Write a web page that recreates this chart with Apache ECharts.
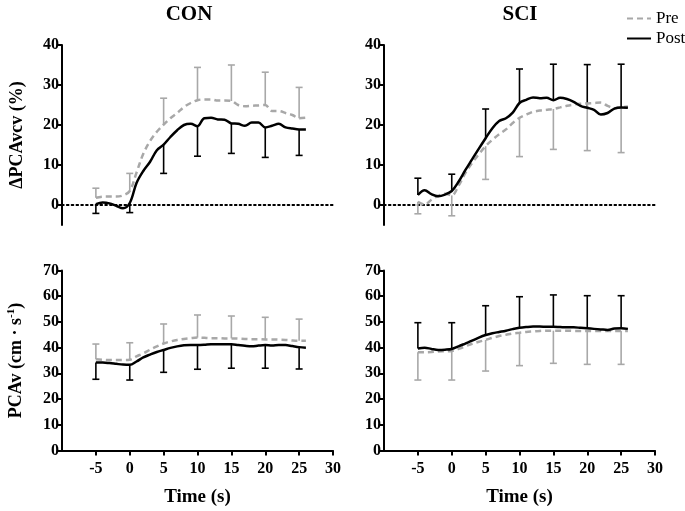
<!DOCTYPE html>
<html><head><meta charset="utf-8">
<script src="https://cdn.jsdelivr.net/npm/echarts@6/dist/echarts.min.js"></script>
<style>html,body{margin:0;padding:0;background:#fff}#c{width:685px;height:511px}</style>
</head><body><div id="c"></div>
<script>
// ---- data ----
const time = [-5,-4,-3,-2,-1,0,1,2,3,4,5,6,7,8,9,10,11,12,13,14,15,16,17,18,19,20,21,22,23,24,25,26];
const errTimes = [-5,0,5,10,15,20,25];
const xTicks = [-5,0,5,10,15,20,25,30];
const yTicksTop = [0,10,20,30,40];
const yTicksBottom = [0,10,20,30,40,50,60,70];

const conDeltaPre  = [1.8,2.1,2.1,2.1,2.4,3.5,8.1,12.8,16.0,18.3,20.1,21.7,23.0,24.5,25.5,26.2,26.4,26.4,26.1,26.1,26.0,25.0,24.7,24.8,24.9,25.0,23.5,23.5,23.0,22.5,21.7,21.8];
const conDeltaPost = [0.2,0.6,0.4,-0.2,-0.8,0.5,5.5,8.5,10.8,13.7,15.1,17.0,18.7,20.0,20.3,19.7,21.7,21.8,21.4,21.3,20.4,20.3,19.8,20.6,20.6,19.4,19.8,20.3,19.4,19.1,18.9,18.9];
const sciDeltaPre  = [0.8,0.1,1.3,2.3,2.8,2.4,4.8,8.0,10.5,12.7,14.7,16.3,17.7,18.9,20.5,21.8,22.6,23.3,23.6,23.8,24.0,24.4,24.8,25.1,25.3,25.4,25.5,25.6,24.8,24.2,24.4,24.6];
const sciDeltaPost = [2.5,3.7,2.7,2.2,2.6,3.5,5.8,8.7,11.4,14.1,16.7,19.2,21.0,21.7,23.1,25.5,26.3,26.9,26.7,26.8,26.2,26.8,26.5,25.8,24.8,24.3,23.8,22.6,23.0,24.1,24.4,24.3];
const conPcavPre   = [35.5,35.3,35.2,35.2,35.2,35.3,36.6,37.8,39.2,40.5,41.6,42.4,43.0,43.4,43.7,43.9,43.8,43.7,43.7,43.6,43.6,43.5,43.4,43.3,43.3,43.2,43.2,43.1,43.0,42.8,42.7,42.7];
const conPcavPost  = [34.2,34.2,34.0,33.7,33.4,33.3,34.6,36.2,37.3,38.3,39.1,39.9,40.5,40.9,41.0,41.0,41.1,41.3,41.3,41.3,41.3,41.0,40.7,40.5,40.8,41.0,40.8,41.0,41.0,40.6,40.2,40.0];
const sciPcavPre   = [38.2,38.2,38.3,38.5,38.6,38.7,39.5,40.5,41.5,42.3,43.0,43.8,44.5,45.0,45.5,45.8,46.1,46.3,46.5,46.6,46.6,46.6,46.6,46.5,46.5,46.5,46.5,46.5,46.5,46.5,46.5,46.5];
const sciPcavPost  = [39.7,40.0,39.5,39.1,39.2,39.5,40.5,41.6,42.7,43.9,44.9,45.6,46.1,46.6,47.2,47.7,48.0,48.2,48.2,48.1,48.1,48.0,47.9,47.9,47.7,47.5,47.3,47.1,46.9,47.4,47.5,47.3];

// error bar ends (SD) at errTimes
const conDeltaPreUpper  = [4.2,7.9,26.7,34.4,35.0,33.2,29.4];
const conDeltaPostLower = [-2.1,-1.9,7.9,12.2,12.9,11.9,12.4];
const sciDeltaPostUpper = [6.7,7.7,24.0,34.0,35.2,35.1,35.2];
const sciDeltaPreLower  = [-2.2,-2.7,6.4,12.1,13.9,13.6,13.1];
const conPcavPreUpper   = [41.4,41.9,49.2,52.7,52.3,51.8,51.1];
const conPcavPostLower  = [27.7,27.4,30.4,31.6,32.0,32.0,31.7];
const sciPcavPostUpper  = [49.7,49.7,56.3,59.8,60.5,60.2,60.2];
const sciPcavPreLower   = [27.4,27.4,30.9,33.0,33.9,33.5,33.5];

// ---- styling ----
const FF = '"Liberation Serif", "Times New Roman", serif';
const GRAY = '#a8a8a8';
const BLACK = '#000';

const grids = [
  {left:62, top:45, width:271, height:180},
  {left:384, top:45, width:271, height:180},
  {left:62, top:270.5, width:271, height:180},
  {left:384, top:270.5, width:271, height:180}
];

function xAxis(i, bottom){
  return {
    type:'value', gridIndex:i, min:-10, max:30,
    axisLine: bottom ? {show:true, onZero:false, lineStyle:{color:BLACK, width:2}}
                     : {show:true, onZero:true, lineStyle:{color:BLACK, width:1.8, type:[1.8,3]}},
    axisTick: bottom ? {show:true, length:5, lineStyle:{color:BLACK, width:2}, customValues:xTicks} : {show:false},
    axisLabel: bottom ? {show:true, customValues:xTicks, margin:10, color:BLACK, fontFamily:FF, fontWeight:'bold', fontSize:16} : {show:false},
    splitLine:{show:false},
    name: bottom ? 'Time (s)' : '',
    nameLocation:'middle', nameGap:37,
    nameTextStyle:{color:BLACK, fontFamily:FF, fontWeight:'bold', fontSize:19}
  };
}
function yAxis(i, top, left){
  const ticks = top ? yTicksTop : yTicksBottom;
  const o = {
    type:'value', gridIndex:i, min: top ? -5 : 0, max: top ? 40 : 70,
    axisLine:{show:true, onZero:false, lineStyle:{color:BLACK, width:2}},
    axisTick:{show:true, length:5, lineStyle:{color:BLACK, width:2}, customValues:ticks},
    axisLabel:{show:true, customValues:ticks, margin:3, color:BLACK, fontFamily:FF, fontWeight:'bold', fontSize:16},
    splitLine:{show:false}
  };
  if (left) {
    o.nameLocation = 'middle';
    o.nameRotate = 90;
    o.nameGap = 36;
    if (top) {
      o.name = 'ΔPCAvcv (%)';
      o.nameTextStyle = {color:BLACK, fontFamily:FF, fontWeight:'bold', fontSize:18};
    } else {
      o.name = '{n|PCAv (cm · s}{s|-1}{n|)}';
      o.nameTextStyle = {color:BLACK, rich:{
        n:{color:BLACK, fontFamily:FF, fontWeight:'bold', fontSize:18, lineHeight:20},
        s:{color:BLACK, fontFamily:FF, fontWeight:'bold', fontSize:11, lineHeight:10, verticalAlign:'top'}
      }};
    }
  }
  return o;
}

function lineSeries(name, idx, vals){
  const pre = name === 'Pre';
  return {
    type:'line', name, xAxisIndex:idx, yAxisIndex:idx,
    data: time.map((t,k)=>[t, vals[k]]),
    smooth:0.35, showSymbol:false, symbol:'none',
    lineStyle: pre ? {color:GRAY, width:2.5, type:[6,4]} : {color:BLACK, width:2.5},
    itemStyle:{color: pre ? GRAY : BLACK},
    z: pre ? 3 : 4, silent:true
  };
}
function errSeries(idx, line, ends, color){
  return {
    type:'custom', xAxisIndex:idx, yAxisIndex:idx, silent:true, z:2,
    data: errTimes.map((t,k)=>[t, line[time.indexOf(t)], ends[k]]),
    encode:{x:0, y:[1,2]},
    renderItem:(params, api)=>{
      const p0 = api.coord([api.value(0), api.value(1)]);
      const p1 = api.coord([api.value(0), api.value(2)]);
      const w = 3.5;
      return {type:'group', children:[
        {type:'line', shape:{x1:p0[0], y1:p0[1], x2:p1[0], y2:p1[1]}, style:{stroke:color, lineWidth:1.6}},
        {type:'line', shape:{x1:p1[0]-w, y1:p1[1], x2:p1[0]+w, y2:p1[1]}, style:{stroke:color, lineWidth:1.6}}
      ]};
    }
  };
}

const option = {
  animation:false,
  backgroundColor:'#fff',
  grid: grids,
  xAxis: [xAxis(0,false), xAxis(1,false), xAxis(2,true), xAxis(3,true)],
  yAxis: [yAxis(0,true,true), yAxis(1,true,false), yAxis(2,false,true), yAxis(3,false,false)],
  legend:{
    data:['Pre','Post'], orient:'vertical', left:621, top:5,
    itemWidth:24, itemHeight:12, itemGap:3,
    itemStyle:{opacity:0},
    textStyle:{color:BLACK, fontFamily:FF, fontSize:17},
    selectedMode:false
  },
  graphic:[
    {type:'text', x:189, y:15, style:{text:'CON', fill:BLACK, font:'bold 21px ' + FF, textAlign:'center', textVerticalAlign:'middle'}},
    {type:'text', x:520, y:15, style:{text:'SCI', fill:BLACK, font:'bold 21px ' + FF, textAlign:'center', textVerticalAlign:'middle'}}
  ],
  series:[
    errSeries(0, conDeltaPre, conDeltaPreUpper, GRAY),
    errSeries(0, conDeltaPost, conDeltaPostLower, BLACK),
    lineSeries('Pre', 0, conDeltaPre),
    lineSeries('Post', 0, conDeltaPost),
    errSeries(1, sciDeltaPost, sciDeltaPostUpper, BLACK),
    errSeries(1, sciDeltaPre, sciDeltaPreLower, GRAY),
    lineSeries('Pre', 1, sciDeltaPre),
    lineSeries('Post', 1, sciDeltaPost),
    errSeries(2, conPcavPre, conPcavPreUpper, GRAY),
    errSeries(2, conPcavPost, conPcavPostLower, BLACK),
    lineSeries('Pre', 2, conPcavPre),
    lineSeries('Post', 2, conPcavPost),
    errSeries(3, sciPcavPost, sciPcavPostUpper, BLACK),
    errSeries(3, sciPcavPre, sciPcavPreLower, GRAY),
    lineSeries('Pre', 3, sciPcavPre),
    lineSeries('Post', 3, sciPcavPost)
  ]
};
const chart = echarts.init(document.getElementById('c'), null, {renderer:'canvas'});
chart.setOption(option);
</script>
</body></html>
